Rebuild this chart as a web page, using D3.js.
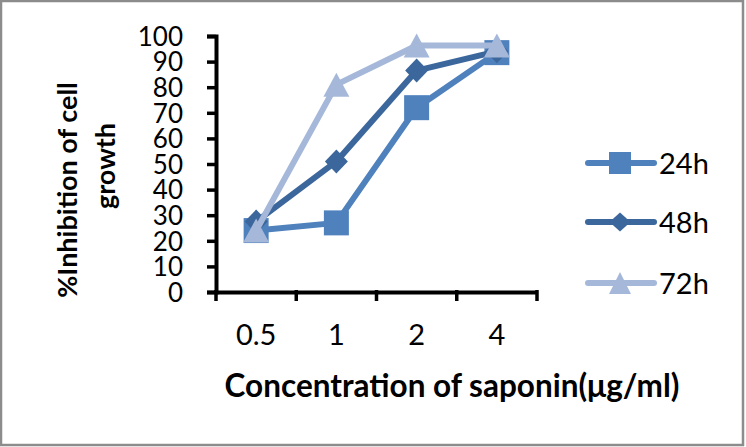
<!DOCTYPE html>
<html><head><meta charset="utf-8">
<script src="https://cdn.jsdelivr.net/npm/d3@7"></script>
<style>body{margin:0;background:#fff}svg{display:block}text{font-family:Lato,"Open Sans",sans-serif}</style>
</head><body><svg id="c" width="746" height="447"></svg>
<script>
const categories = ["0.5","1","2","4"];
const yTicks = [0,10,20,30,40,50,60,70,80,90,100];
const series24 = [24, 27, 72, 93.5];
const series48 = [27.5, 51, 86.5, 94];
const series72 = [24, 81, 96.3, 96.3];
const seriesNames = ["24h","48h","72h"];
const seriesColors = ["#4f81bd","#3b679c","#a6b8d9"];
const seriesShapes = ["square","diamond","triangle"];
const seriesData = [series24, series48, series72];

(function(){
const svg = d3.select("#c");
svg.append("rect").attr("x",1).attr("y",1).attr("width",742).attr("height",444)
  .attr("fill","#fff").attr("stroke","#8c8c8c").attr("stroke-width",2.5);

const pl=216, pr=537, pt=36, pb=292;
const x = d3.scaleBand().domain(categories).range([pl,pr]);
const y = d3.scaleLinear().domain([0,100]).range([pb,pt]);

// y axis
const ya = svg.append("g").attr("transform",`translate(${pl},0)`)
  .call(d3.axisLeft(y).tickValues(yTicks).tickSize(9).tickPadding(24));
ya.select(".domain").attr("stroke","#000").attr("stroke-width",4);
ya.selectAll(".tick line").attr("stroke","#000").attr("stroke-width",3.5);
ya.selectAll(".tick text").attr("font-size",26).attr("fill","#000").attr("dy","0.36em");

// x axis
const xa = svg.append("g").attr("transform",`translate(0,${pb})`)
  .call(d3.axisBottom(x).tickSize(0));
xa.select(".domain").attr("stroke","#000").attr("stroke-width",4);
xa.selectAll(".tick text").attr("font-size",29).attr("fill","#000").attr("dy","0").attr("y",53);
const bounds = categories.map(c=>x(c)).concat([x(categories[categories.length-1])+x.bandwidth()]);
xa.selectAll("line.bt").data(bounds).join("line").attr("class","bt")
  .attr("x1",d=>d).attr("x2",d=>d).attr("y1",-2).attr("y2",9)
  .attr("stroke","#000").attr("stroke-width",3.5);

const cx = c => x(c) + x.bandwidth()/2;
function shapePath(shape, w, h){
  const a=w/2, b=h/2;
  if(shape==="square") return `M${-a},${-b}H${a}V${b}H${-a}Z`;
  if(shape==="diamond") return `M0,${-b}L${a},0L0,${b}L${-a},0Z`;
  return `M0,${-b}L${a},${b}L${-a},${b}Z`;
}
const markerSize = {square:[25,25], diamond:[23,24], triangle:[26,24]};
const legendSize = {square:[22,22], diamond:[21,19], triangle:[22,22]};

const line = d3.line().x((d,i)=>cx(categories[i])).y(d=>y(d));
seriesData.forEach((data,si)=>{
  const g = svg.append("g");
  const sh = seriesShapes[si];
  g.append("path").datum(data).attr("d",line).attr("fill","none")
    .attr("stroke",seriesColors[si]).attr("stroke-width",6).attr("stroke-linejoin","round");
  g.selectAll("path.m").data(data).join("path").attr("class","m")
    .attr("d",shapePath(sh, ...markerSize[sh])).attr("fill",seriesColors[si])
    .attr("transform",(d,i)=>`translate(${cx(categories[i])},${y(d)})`);
});

// legend
const legY = [163,222,283];
seriesNames.forEach((n,si)=>{
  const sh = seriesShapes[si];
  const g = svg.append("g").attr("transform",`translate(0,${legY[si]})`);
  g.append("line").attr("x1",588).attr("x2",654).attr("y1",0).attr("y2",0)
    .attr("stroke",seriesColors[si]).attr("stroke-width",6).attr("stroke-linecap","round");
  g.append("path").attr("d",shapePath(sh, ...legendSize[sh])).attr("fill",seriesColors[si])
    .attr("transform",`translate(620,0)`);
  g.append("text").attr("x",659).attr("y",10.5).attr("font-size",29)
    .attr("fill","#000").text(n);
});

// axis titles
svg.append("text").attr("x",452).attr("y",397).attr("text-anchor","middle")
  .attr("font-size",31.5).attr("font-weight","bold").attr("fill","#000")
  .text("Concentration of saponin(μg/ml)");
svg.append("text").attr("transform","translate(77,190) rotate(-90)")
  .attr("text-anchor","middle").attr("font-size",27).attr("font-weight","bold").attr("fill","#000")
  .text("%Inhibition of cell");
svg.append("text").attr("transform","translate(115,166) rotate(-90)")
  .attr("text-anchor","middle").attr("font-size",27).attr("font-weight","bold").attr("fill","#000")
  .text("growth");
})();
</script></body></html>
